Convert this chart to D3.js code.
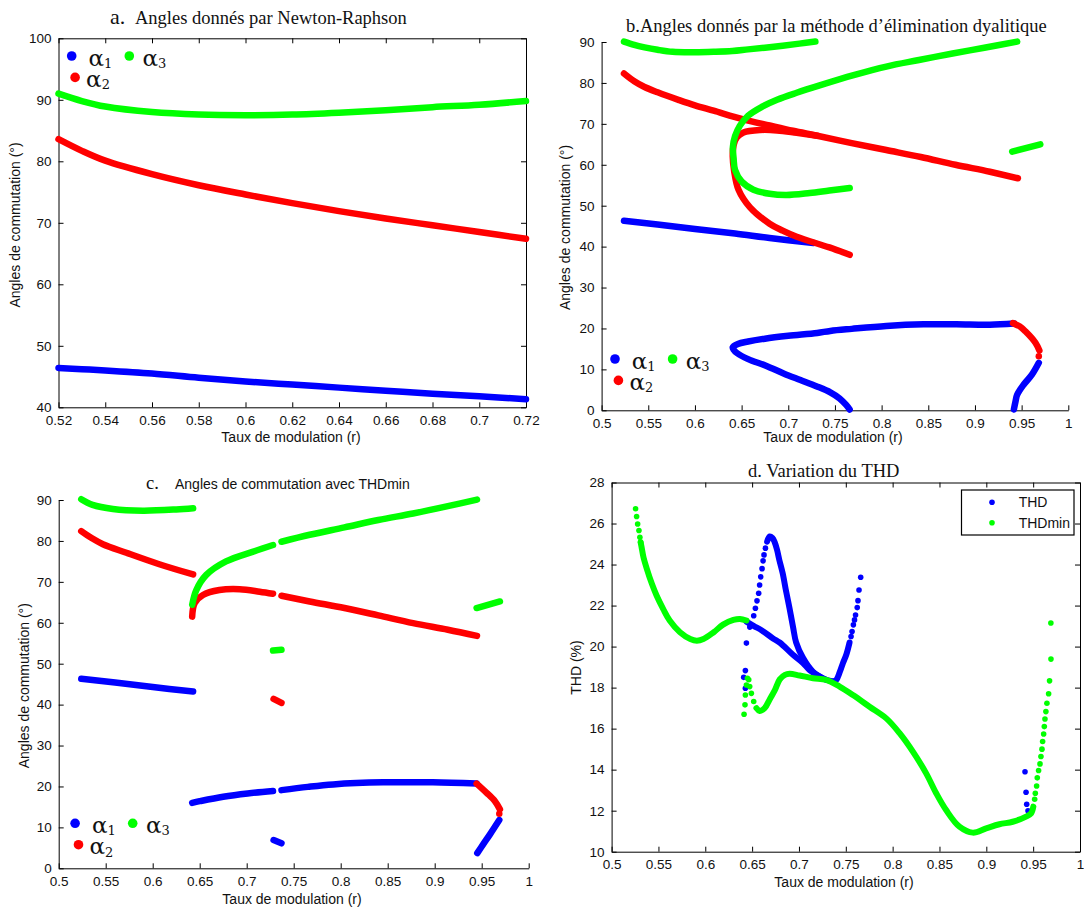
<!DOCTYPE html>
<html>
<head>
<meta charset="utf-8">
<script src="https://cdn.jsdelivr.net/npm/d3@7"></script>
<style>
  html, body { margin: 0; padding: 0; background: #fff; }
  svg { display: block; }
  .tick text { font-family: "Liberation Sans", Arial, sans-serif; font-size: 13.5px; fill: #111; }
  .lab { font-family: "Liberation Sans", Arial, sans-serif; font-size: 14px; fill: #111; }
  .ttl { font-family: "Liberation Serif", "Times New Roman", serif; font-size: 18.5px; fill: #111; }
  .leg { font-family: "DejaVu Serif", "Liberation Serif", serif; fill: #111; }
</style>
</head>
<body>
<svg id="fig" width="1084" height="909"></svg>
<script>
// ---------- tick values ----------
const aXTicks = [0.52, 0.54, 0.56, 0.58, 0.60, 0.62, 0.64, 0.66, 0.68, 0.70, 0.72];
const aYTicks = [40, 50, 60, 70, 80, 90, 100];
const rTicks = [0.5, 0.55, 0.6, 0.65, 0.7, 0.75, 0.8, 0.85, 0.9, 0.95, 1];
const angleTicks = [0, 10, 20, 30, 40, 50, 60, 70, 80, 90];
const thdTicks = [10, 12, 14, 16, 18, 20, 22, 24, 26, 28];

// ---------- a. Newton-Raphson ----------
const aR      = [0.52, 0.53, 0.54, 0.56, 0.58, 0.60, 0.62, 0.64, 0.66, 0.68, 0.70, 0.72];
const aAlpha1 = [46.4, 46.2, 46.0, 45.5, 44.8, 44.2, 43.7, 43.2, 42.7, 42.2, 41.8, 41.3];
const aAlpha2 = [83.6, 81.7, 80.1, 77.9, 76.1, 74.6, 73.2, 71.9, 70.7, 69.6, 68.5, 67.4];
const aAlpha3 = [91.0, 89.8, 88.9, 88.0, 87.6, 87.5, 87.6, 87.9, 88.3, 88.8, 89.2, 89.8];

// ---------- b. élimination dyalitique : [r, angle] ----------
const bAlpha1Upper = [[0.524,46.3],[0.56,45.4],[0.60,44.3],[0.643,43.2],[0.68,42.1],[0.727,40.9]];
const bAlpha1Lower = [[0.942,21.2],[0.916,20.9],[0.88,21.0],[0.845,21.0],[0.805,20.6],[0.768,19.9],[0.745,19.4],
  [0.731,18.9],[0.70,18.2],[0.675,17.5],[0.657,16.8],[0.646,16.2],[0.6405,15.4],[0.6415,14.8],[0.645,14.0],
  [0.657,12.5],[0.676,10.9],[0.695,9.0],[0.713,7.4],[0.73,5.9],[0.745,4.4],[0.755,2.9],[0.762,1.3],[0.7657,0.2]];
const bAlpha1Right = [[0.9417,0.2],[0.9435,2.2],[0.9452,3.8],[0.9523,6.3],[0.961,8.7],[0.9684,11.6]];
const bAlpha2Main = [[0.524,82.3],[0.535,80.4],[0.546,79.0],[0.56,77.7],[0.583,75.8],[0.60,74.5],[0.62,73.2],
  [0.652,71.1],[0.68,69.6],[0.705,68.3],[0.731,67.1],[0.768,65.3],[0.805,63.6],[0.842,61.9],[0.879,60.0],
  [0.916,58.3],[0.946,56.7]];
const bAlpha2Loop = [[0.7658,38.0],[0.744,39.8],[0.709,42.4],[0.694,43.9],[0.68,45.6],[0.659,49.6],[0.6467,53.9],
  [0.642,58.5],[0.6405,62.0],[0.6414,64.8],[0.645,66.7],[0.652,67.9],[0.670,68.5],[0.688,68.4],[0.709,67.8],[0.731,67.1]];
const bAlpha2Right = [[0.9407,21.3],[0.948,20.5],[0.954,19.3],[0.9648,16.5],[0.969,14.6]];
const bAlpha2Dot = [[0.9684,13.2]];
const bAlpha3Top = [[0.524,90.1],[0.535,89.3],[0.546,88.7],[0.56,88.1],[0.576,87.6],[0.60,87.5],[0.62,87.6],
  [0.64,87.8],[0.657,88.2],[0.675,88.6],[0.694,89.1],[0.712,89.6],[0.729,90.1]];
const bAlpha3Arc = [[0.9452,90.1],[0.91,88.6],[0.876,87.2],[0.84,85.6],[0.805,84.0],[0.77,81.9],[0.7336,79.4],
  [0.709,77.6],[0.688,75.9],[0.672,74.2],[0.657,72.0],[0.648,69.5],[0.643,67.0],[0.6407,64.4],[0.6414,61.6],
  [0.643,58.7],[0.650,55.9],[0.6627,53.9],[0.680,52.9],[0.698,52.6],[0.723,53.1],[0.744,53.7],[0.7658,54.3]];
const bAlpha3Right = [[0.9399,63.2],[0.970,65.0]];

// ---------- c. angles avec THDmin : [r, angle] ----------
const cAlpha1Left  = [[0.524,46.3],[0.56,45.4],[0.60,44.3],[0.643,43.2]];
const cAlpha1Mid1  = [[0.642,16.0],[0.65,16.4],[0.675,17.5],[0.701,18.3],[0.728,18.9]];
const cAlpha1Mid2  = [[0.737,19.1],[0.765,19.9],[0.792,20.5],[0.845,21.0],[0.898,21.0],[0.9446,20.7]];
const cAlpha1Small = [[0.7286,6.9],[0.737,6.1]];
const cAlpha1Right = [[0.9453,3.7],[0.9517,5.9],[0.9588,8.3],[0.9687,11.8]];
const cAlpha2Left  = [[0.524,82.4],[0.535,80.7],[0.547,79.2],[0.572,77.1],[0.607,74.3],[0.643,71.8]];
const cAlpha2Mid1  = [[0.642,61.5],[0.6446,64.8],[0.6535,66.8],[0.671,68.0],[0.6925,68.2],[0.7138,67.6],[0.728,67.1]];
const cAlpha2Mid2  = [[0.737,66.6],[0.767,65.2],[0.804,63.6],[0.840,61.8],[0.877,59.9],[0.914,58.3],[0.945,56.8]];
const cAlpha2Small = [[0.7286,41.4],[0.737,40.4]];
const cAlpha2Right = [[0.9446,20.7],[0.955,18.5],[0.9641,16.4],[0.9694,14.4]];
const cAlpha2Dot   = [[0.9687,13.3]];
const cAlpha3Left  = [[0.524,90.2],[0.536,88.8],[0.5577,87.8],[0.5896,87.4],[0.625,87.7],[0.643,88.0]];
const cAlpha3Mid1  = [[0.642,64.4],[0.6464,68.0],[0.657,71.7],[0.678,75.0],[0.707,77.4],[0.728,79.0]];
const cAlpha3Mid2  = [[0.737,79.8],[0.767,81.5],[0.804,83.3],[0.840,85.1],[0.877,86.7],[0.914,88.5],[0.945,90.1]];
const cAlpha3Small = [[0.728,53.2],[0.737,53.4]];
const cAlpha3Right = [[0.9446,63.6],[0.9694,65.2]];

// ---------- d. THD (%) : [r, THD] ----------
const dThdDots = [[0.641,18.5],[0.6428,17.97],[0.6428,18.83],[0.6439,20.17],[0.6475,20.95],
  [0.6517,21.5],[0.6535,21.87],[0.6552,22.23],[0.657,22.6],[0.658,23.0],[0.6592,23.4],[0.6606,23.8],
  [0.6617,24.18],[0.6627,24.47],[0.6642,24.8],
  [0.7556,20.49],[0.7567,20.73],[0.7581,21.06],[0.7593,21.3],[0.7604,21.54],[0.7622,21.9],[0.763,22.24],
  [0.7641,22.76],[0.7659,23.38],
  [0.9413,13.9],[0.9424,12.9],[0.9431,12.31],[0.9445,12.0]];
const dThdPeak = [[0.666,25.12],[0.6688,25.37],[0.6716,25.3],[0.674,25.1],[0.6766,24.72],[0.679,24.23],
  [0.6826,23.58],[0.686,22.76],[0.69,21.85],[0.6937,20.95],[0.697,20.2],[0.7043,19.45],[0.7149,18.78],[0.729,18.38]];
const dThdBranch = [[0.6439,21.22],[0.652,21.0],[0.66,20.8],[0.6723,20.4],[0.6794,20.2],[0.6936,19.6],
  [0.7043,19.2],[0.7114,18.85],[0.7256,18.45],[0.736,18.3]];
const dThdRise = [[0.736,18.3],[0.7399,18.38],[0.7435,18.75],[0.7469,19.19],[0.7505,19.6],[0.754,20.2]];
const dThdMinDots = [[0.5256,26.72],[0.5267,26.34],[0.5278,25.98],[0.5292,25.66],[0.5302,25.33],[0.531,25.09],
  [0.6414,16.7],[0.6424,17.16],[0.6428,17.64],[0.6439,18.13],[0.645,18.46],[0.6464,18.38],[0.6474,18.05],
  [0.6492,17.72],[0.6517,17.32],
  [0.9516,12.56],[0.9523,12.85],[0.9537,13.2],[0.9544,13.6],[0.9558,13.96],[0.9573,14.28],[0.9583,14.64],
  [0.9594,15.0],[0.9601,15.37],[0.9612,15.74],[0.9619,16.1],[0.9626,16.47],[0.9636,16.83],[0.9647,17.24],
  [0.9665,17.7],[0.9675,18.33],[0.969,19.39],[0.9689,21.15]];
const dThdMinLeft = [[0.531,25.09],[0.532,24.85],[0.534,24.36],[0.5376,23.79],[0.543,23.06],[0.548,22.49],
  [0.555,21.84],[0.562,21.27],[0.573,20.7],[0.584,20.37],[0.591,20.29],[0.598,20.37],[0.609,20.7],
  [0.619,21.07],[0.630,21.3],[0.637,21.35],[0.644,21.27]];
const dThdMinMain = [[0.6546,17.0],[0.658,16.86],[0.6634,17.0],[0.669,17.45],[0.674,17.85],[0.6795,18.4],
  [0.685,18.62],[0.690,18.67],[0.7007,18.59],[0.715,18.46],[0.729,18.38],[0.7434,18.05],[0.7576,17.64],
  [0.7754,17.07],[0.7932,16.5],[0.8074,15.78],[0.8216,14.88],[0.8358,13.82],[0.8465,12.85],[0.8571,12.03],
  [0.8713,11.22],[0.8855,10.93],[0.8998,11.14],[0.914,11.34],[0.9282,11.46],[0.9424,11.71],[0.9478,11.87],[0.9502,12.2]];

// ---------- legends ----------
const alphaSubs = ["1", "2", "3"];
const thdLegend = ["THD", "THDmin"];

const BLUE = "#0000ff", RED = "#ff0000", GREEN = "#00ff00";
const svg = d3.select("#fig");
const fmt = d => String(+d.toFixed(2));

function axes(g, x, y, xTicks, yTicks, box) {
  const [x0, x1] = x.range(), [yb, yt] = y.range();
  g.append("g").attr("transform", `translate(0,${yb})`)
    .call(d3.axisBottom(x).tickValues(xTicks).tickFormat(fmt).tickSizeInner(-5).tickSizeOuter(0).tickPadding(8));
  g.append("g").attr("transform", `translate(${x0},0)`)
    .call(d3.axisLeft(y).tickValues(yTicks).tickSizeInner(-5).tickSizeOuter(0).tickPadding(7));
  if (box) {
    g.append("g").attr("transform", `translate(0,${yt})`)
      .call(d3.axisTop(x).tickValues(xTicks).tickFormat("").tickSizeInner(-5).tickSizeOuter(0));
    g.append("g").attr("transform", `translate(${x1},0)`)
      .call(d3.axisRight(y).tickValues(yTicks).tickFormat("").tickSizeInner(-5).tickSizeOuter(0));
  }
  g.selectAll(".domain").attr("stroke", "#000");
}

function trace(g, x, y, pts, color, w) {
  if (pts.length === 1) {
    g.append("circle").attr("cx", x(pts[0][0])).attr("cy", y(pts[0][1])).attr("r", w / 2).attr("fill", color);
    return;
  }
  const line = d3.line().x(d => x(d[0])).y(d => y(d[1])).curve(d3.curveCatmullRom.alpha(0.5));
  g.append("path").attr("d", line(pts)).attr("fill", "none").attr("stroke", color)
    .attr("stroke-width", w).attr("stroke-linecap", "round").attr("stroke-linejoin", "round");
}

function dots(g, x, y, pts, color, r) {
  g.selectAll(null).data(pts).join("circle")
    .attr("cx", d => x(d[0])).attr("cy", d => y(d[1])).attr("r", r).attr("fill", color);
}

// legend: α1 and α3 on the first row, α2 below
function alphaLegend(g, ox, oy) {
  const items = [
    { dx: 0, dy: 0, tx: 16.8, c: BLUE, s: alphaSubs[0] },
    { dx: 57.6, dy: 0, tx: 70.8, c: GREEN, s: alphaSubs[2] },
    { dx: 3.4, dy: 21.4, tx: 14.4, c: RED, s: alphaSubs[1] }
  ];
  items.forEach(it => {
    g.append("circle").attr("cx", ox + it.dx).attr("cy", oy + it.dy).attr("r", 4.8).attr("fill", it.c);
    const t = g.append("text").attr("class", "leg").attr("x", ox + it.tx).attr("y", oy + it.dy + 9.5)
      .attr("font-size", 23).text("α");
    t.append("tspan").attr("font-size", 13).attr("dy", 2.5).text(it.s);
  });
}

function yLabel(g, text, cx, cy) {
  g.append("text").attr("class", "lab").attr("text-anchor", "middle")
    .attr("transform", `translate(${cx},${cy}) rotate(-90)`).text(text);
}
function xLabel(g, text, cx, by) {
  g.append("text").attr("class", "lab").attr("text-anchor", "middle").attr("x", cx).attr("y", by).text(text);
}

const W = 6.5;

// ===== Panel a =====
{
  const g = svg.append("g");
  const x = d3.scaleLinear().domain([0.52, 0.72]).range([58.5, 526]);
  const y = d3.scaleLinear().domain([40, 100]).range([407.3, 38.3]);
  axes(g, x, y, aXTicks, aYTicks, true);
  [[aAlpha1, BLUE], [aAlpha2, RED], [aAlpha3, GREEN]].forEach(([vals, c]) =>
    trace(g, x, y, aR.map((r, i) => [r, vals[i]]), c, W));
  alphaLegend(g, 71.7, 56);
  const t = g.append("text").attr("class", "ttl").attr("x", 110).attr("y", 23.5);
  t.append("tspan").attr("font-size", 22).text("a.");
  t.append("tspan").attr("x", 135).text("Angles donnés par Newton-Raphson");
  yLabel(g, "Angles de commutation (°)", 20, 225);
  xLabel(g, "Taux de modulation (r)", 291, 442);
}

// ===== Panel b =====
{
  const g = svg.append("g");
  const x = d3.scaleLinear().domain([0.5, 1]).range([601.6, 1068.3]);
  const y = d3.scaleLinear().domain([0, 90]).range([410.3, 42]);
  axes(g, x, y, rTicks, angleTicks, false);
  [bAlpha1Upper, bAlpha1Lower, bAlpha1Right].forEach(s => trace(g, x, y, s, BLUE, W));
  [bAlpha2Main, bAlpha2Loop, bAlpha2Right, bAlpha2Dot].forEach(s => trace(g, x, y, s, RED, W));
  [bAlpha3Top, bAlpha3Arc, bAlpha3Right].forEach(s => trace(g, x, y, s, GREEN, W));
  alphaLegend(g, 615, 359);
  g.append("text").attr("class", "ttl").attr("x", 626).attr("y", 31.5)
    .text("b.Angles donnés par la méthode d’élimination dyalitique");
  yLabel(g, "Angles de commutation (°)", 569.5, 227.5);
  xLabel(g, "Taux de modulation (r)", 833, 442);
}

// ===== Panel c =====
{
  const g = svg.append("g");
  const x = d3.scaleLinear().domain([0.5, 1]).range([58.7, 528.7]);
  const y = d3.scaleLinear().domain([0, 90]).range([868.3, 500]);
  axes(g, x, y, rTicks, angleTicks, false);
  [cAlpha1Left, cAlpha1Mid1, cAlpha1Mid2, cAlpha1Small, cAlpha1Right].forEach(s => trace(g, x, y, s, BLUE, W));
  [cAlpha2Left, cAlpha2Mid1, cAlpha2Mid2, cAlpha2Small, cAlpha2Right, cAlpha2Dot].forEach(s => trace(g, x, y, s, RED, W));
  [cAlpha3Left, cAlpha3Mid1, cAlpha3Mid2, cAlpha3Small, cAlpha3Right].forEach(s => trace(g, x, y, s, GREEN, W));
  alphaLegend(g, 75.1, 823.3);
  g.append("text").attr("class", "ttl").attr("x", 146).attr("y", 489).attr("font-size", 22).text("c.");
  g.append("text").attr("class", "lab").attr("x", 175).attr("y", 489).text("Angles de commutation avec THDmin");
  yLabel(g, "Angles de commutation (°)", 28.6, 685.7);
  xLabel(g, "Taux de modulation (r)", 292, 904);
}

// ===== Panel d =====
{
  const g = svg.append("g");
  const x = d3.scaleLinear().domain([0.5, 1]).range([611.6, 1080]);
  const y = d3.scaleLinear().domain([10, 28]).range([851.7, 482.5]);
  axes(g, x, y, rTicks, thdTicks, true);
  [dThdPeak, dThdBranch, dThdRise].forEach(s => trace(g, x, y, s, BLUE, 6));
  dots(g, x, y, dThdDots, BLUE, 2.8);
  [dThdMinLeft, dThdMinMain].forEach(s => trace(g, x, y, s, GREEN, 6));
  dots(g, x, y, dThdMinDots, GREEN, 2.8);
  // legend box
  const lg = g.append("g");
  lg.append("rect").attr("x", 961.5).attr("y", 490).attr("width", 112.5).attr("height", 45)
    .attr("fill", "#fff").attr("stroke", "#000").attr("stroke-width", 1.2);
  [[BLUE, 502.3], [GREEN, 522.7]].forEach(([c, cy], i) => {
    lg.append("circle").attr("cx", 992).attr("cy", cy).attr("r", 2.8).attr("fill", c);
    lg.append("text").attr("class", "lab").attr("font-size", 13.5).attr("x", 1018.7).attr("y", cy + 5)
      .text(thdLegend[i]);
  });
  g.append("text").attr("class", "ttl").attr("x", 748).attr("y", 476.5).text("d. Variation du THD");
  yLabel(g, "THD (%)", 581, 667.5);
  xLabel(g, "Taux de modulation (r)", 844, 886.5);
}
</script>
</body>
</html>
